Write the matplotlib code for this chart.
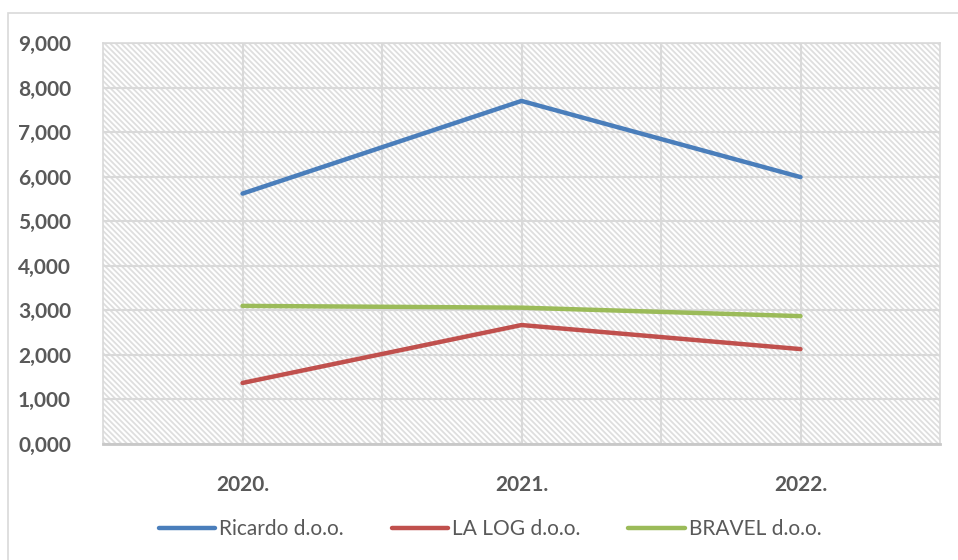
import matplotlib
matplotlib.use("Agg")
import matplotlib.pyplot as plt
from matplotlib.patches import Rectangle
from matplotlib.lines import Line2D

# -----------------------------
# DATA
# -----------------------------
years = ["2020.", "2021.", "2022."]
ricardo = [5.62, 7.70, 5.99]
la_log = [1.37, 2.67, 2.13]
bravel = [3.10, 3.06, 2.87]
series_names = ["Ricardo d.o.o.", "LA LOG d.o.o.", "BRAVEL d.o.o."]
y_ticks = [0, 1, 2, 3, 4, 5, 6, 7, 8, 9]

colors = ["#4A7EBB", "#C0504D", "#9BBB59"]
grid_col = "#D9D9D9"
text_col = "#595959"

plt.rcParams["font.family"] = ["Lato", "DejaVu Sans"]
plt.rcParams["hatch.linewidth"] = 1.3
plt.rcParams["hatch.color"] = "#DEDEDE"

fig = plt.figure(figsize=(9.58, 5.6), dpi=100)
ax = fig.add_axes([103 / 958, 1 - 444 / 560, 837 / 958, 401 / 560])

# chart area border
fig.patches.append(Rectangle((8 / 958, -0.1), 1.1, 1 - 13 / 560 + 0.1,
                             transform=fig.transFigure, fill=False,
                             edgecolor=grid_col, lw=1.2))

# hatched plot background
ax.set_facecolor("white")
ax.add_patch(Rectangle((0, 0), 1, 1, transform=ax.transAxes, facecolor="white",
                       edgecolor="#DEDEDE", hatch="\\" * 6, lw=0, zorder=0))

x = list(range(len(years)))
for vals, c, name in zip([ricardo, la_log, bravel], colors, series_names):
    ax.plot(x, vals, color=c, lw=3.2, solid_capstyle="round", label=name, zorder=3)

ax.set_xlim(-0.5, 2.5)
ax.set_ylim(0, 9)
ax.set_yticks(y_ticks)
ax.set_yticklabels([f"{v:.3f}".replace(".", ",") for v in y_ticks])
ax.set_xticks(x)
ax.set_xticklabels(years)
ax.set_xticks([0.5, 1.5], minor=True)

ax.set_axisbelow(True)
ax.grid(True, which="both", color=grid_col, lw=1.5)
ax.tick_params(which="both", length=0)
ax.tick_params(axis="y", pad=23, labelsize=15, labelcolor=text_col)
ax.tick_params(axis="x", pad=22, labelsize=15, labelcolor=text_col)
for lab in ax.get_xticklabels() + ax.get_yticklabels():
    lab.set_fontweight("bold")

for s in ax.spines.values():
    s.set_color(grid_col)
    s.set_linewidth(1.2)
ax.spines["bottom"].set_color("#C8C8C8")
ax.spines["bottom"].set_linewidth(2)

handles = [Line2D([], [], color=c, lw=3.2, solid_capstyle="round") for c in colors]
fig.legend(handles, series_names, loc="center", bbox_to_anchor=(490 / 958, 1 - 529 / 560),
           ncol=3, frameon=False, fontsize=15, labelcolor=text_col,
           handlelength=2.7, handletextpad=0.2, columnspacing=2.3)

fig.savefig("out.png", dpi=100)
